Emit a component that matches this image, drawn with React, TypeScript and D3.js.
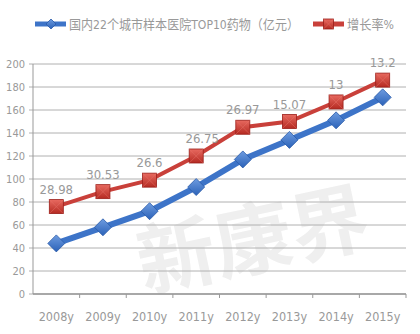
import React from "react";
import * as d3 from "d3";

const years = ["2008y", "2009y", "2010y", "2011y", "2012y", "2013y", "2014y", "2015y"];
const salesValues = [44, 58, 72, 93, 117, 134, 151, 171];
const growthPlotted = [76, 89, 99, 120, 145, 150, 167, 186];
const growthLabels = ["28.98", "30.53", "26.6", "26.75", "26.97", "15.07", "13", "13.2"];
const yTicks = [0, 20, 40, 60, 80, 100, 120, 140, 160, 180, 200];
const legendSales = "国内22个城市样本医院TOP10药物（亿元）";
const legendGrowth = "增长率%";

const W = 420, H = 334;
const M = { left: 33, right: 14, top: 64, bottom: 40 };

export default function App() {
  const x = d3.scaleBand<string>().domain(years).range([M.left, W - M.right]);
  const y = d3.scaleLinear().domain([0, 200]).range([H - M.bottom, M.top]);
  const cx = (i: number) => (x(years[i]) as number) + x.bandwidth() / 2;
  const line = d3.line<number>().x((_, i) => cx(i)).y((v) => y(v));
  const gray = "#999";
  const font = "'Liberation Sans Narrow', 'DejaVu Sans Condensed', 'Noto Sans CJK SC', sans-serif";
  const diamond = (px: number, py: number, r: number, key: string) => (
    <path key={key} d={`M${px},${py - r}L${px + r},${py}L${px},${py + r}L${px - r},${py}Z`} fill="url(#gBlue)" stroke="#2a5aa8" strokeWidth={0.8} />
  );
  const square = (px: number, py: number, s: number, key: string) => (
    <g key={key}>
      <rect x={px - s} y={py - s} width={2 * s} height={2 * s} fill="url(#gRed)" stroke="#9a1f1a" strokeWidth={0.8} />
      <path d={`M${px - s},${py - s}L${px + s},${py + s}M${px + s},${py - s}L${px - s},${py + s}`} stroke="#e8746a" strokeWidth={0.8} opacity={0.6} />
    </g>
  );
  return (
    <div style={{ position: "absolute", left: 0, top: 0 }}>
      <svg width={W} height={H} style={{ display: "block", background: "#fff" }}>
        <defs>
          <linearGradient id="gBlue" x1="0" y1="0" x2="0" y2="1">
            <stop offset="0" stopColor="#6e9ce0" />
            <stop offset="1" stopColor="#2b62b8" />
          </linearGradient>
          <linearGradient id="gRed" x1="0" y1="0" x2="0" y2="1">
            <stop offset="0" stopColor="#e86a60" />
            <stop offset="1" stopColor="#b52a22" />
          </linearGradient>
        </defs>
        {/* watermark */}
        <text x={255} y={268} fontSize={78} fontWeight="bold" fill="#efefef" textAnchor="middle" transform="rotate(-12 255 250)" fontFamily="'Noto Sans CJK SC', sans-serif">新康界</text>
        {/* gridlines */}
        {yTicks.map((t) => (
          <g key={t}>
            <line x1={M.left - 4} x2={W - M.right} y1={y(t)} y2={y(t)} stroke="#b0b0b0" strokeWidth={1} />
            <text x={M.left - 8} y={y(t) + 4} fontSize={11} fill={gray} textAnchor="end" fontFamily={font}>{t}</text>
          </g>
        ))}
        <line x1={M.left} x2={M.left} y1={M.top} y2={y(0)} stroke="#999" />
        <line x1={M.left} x2={W - M.right} y1={y(0)} y2={y(0)} stroke="#999" strokeWidth={1.5} />
        {years.map((yr, i) => (
          <g key={yr}>
            <line x1={(x(yr) as number) + x.bandwidth()} x2={(x(yr) as number) + x.bandwidth()} y1={y(0)} y2={y(0) + 4} stroke="#999" />
            <text x={cx(i)} y={H - 13} fontSize={12.5} fill={gray} textAnchor="middle" fontFamily={font}>{yr}</text>
          </g>
        ))}
        {/* series */}
        <path d={line(growthPlotted) || ""} fill="none" stroke="#c9403a" strokeWidth={4} />
        <path d={line(salesValues) || ""} fill="none" stroke="#3d74c8" strokeWidth={6} />
        {growthPlotted.map((v, i) => square(cx(i), y(v), 7, "s" + i))}
        {salesValues.map((v, i) => diamond(cx(i), y(v), 8.5, "d" + i))}
        {growthPlotted.map((v, i) => (
          <text key={"l" + i} x={cx(i) + (i === 3 ? 6 : 0)} y={y(v) - 13} fontSize={13} fill={gray} textAnchor="middle" fontFamily={font}>{growthLabels[i]}</text>
        ))}
        {/* legend */}
        <line x1={35} x2={66} y1={24} y2={24} stroke="#3d74c8" strokeWidth={5} />
        {diamond(51, 24, 5, "ld")}
        <text x={69} y={29} fontSize={13} fill={gray} fontFamily={font} textLength={230} lengthAdjust="spacingAndGlyphs">{legendSales}</text>
        <line x1={313} x2={344} y1={24} y2={24} stroke="#c9403a" strokeWidth={5} />
        {square(328.5, 24, 5, "ls")}
        <text x={347} y={29} fontSize={13} fill={gray} fontFamily={font} textLength={47} lengthAdjust="spacingAndGlyphs">{legendGrowth}</text>
      </svg>
    </div>
  );
}
